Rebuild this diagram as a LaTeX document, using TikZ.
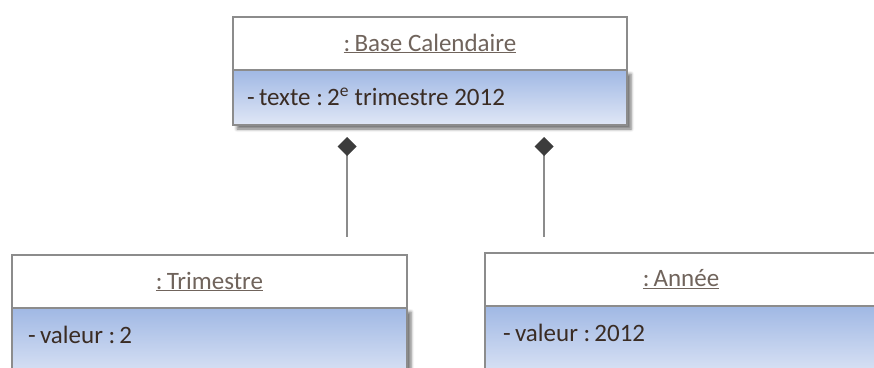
\documentclass[tikz,border=0pt]{standalone}
\usepackage{fontspec}
\setmainfont{Carlito}
\usetikzlibrary{positioning,arrows.meta,shadows.blur}
\definecolor{bordure}{RGB}{140,140,140}
\definecolor{haut}{RGB}{160,184,228}
\definecolor{bas}{RGB}{224,231,246}
\definecolor{titre}{RGB}{112,100,92}
\definecolor{attr}{RGB}{58,44,36}
\definecolor{diamant}{RGB}{60,60,60}
\definecolor{lien}{RGB}{140,140,140}

\tikzset{
  titrebox/.style={draw=bordure, fill=white, line width=1.2pt, outer sep=0pt, inner sep=0pt,
    minimum height=53pt, text=titre, font=\fontsize{25}{30}\selectfont},
  attrbox/.style={draw=bordure, line width=1.2pt, outer sep=0pt, inner sep=0pt,
    top color=haut, bottom color=bas, minimum height=#1,
    blur shadow={shadow xshift=4pt, shadow yshift=-4pt, shadow blur radius=3pt, shadow opacity=55}},
  attrtxt/.style={anchor=west, xshift=14pt, yshift=-27pt, inner sep=0pt, text=attr,
    font=\fontsize{25}{30}\selectfont},
  compo/.style={draw=lien, line width=1.3pt, {Diamond[length=19pt, width=19pt, color=diamant]}-}
}

\begin{document}
\begin{tikzpicture}[x=1pt, y=-1pt]
\clip (0,0) rectangle (874,367);
% objet du haut
\node[titrebox, minimum width=394pt] (base) at (430,43.5) {\underline{:\,Base Calendaire}};
\node[attrbox=55pt, minimum width=394pt, below=0pt of base,
  label={[attrtxt]north west:{-\,texte :\,2\textsuperscript{e} trimestre 2012}}] (basea) {};
% objets du bas
\node[titrebox, minimum width=395pt] (trim) at (209.5,281.5) {\underline{:\,Trimestre}};
\node[attrbox=75pt, minimum width=395pt, below=0pt of trim,
  label={[attrtxt, xshift=2pt]north west:{-\,valeur :\,2}}] (trima) {};
\node[titrebox, minimum width=392pt] (annee) at (681,279.5) {\underline{:\,Année}};
\node[attrbox=75pt, minimum width=392pt, below=0pt of annee,
  label={[attrtxt, xshift=4pt]north west:{-\,valeur :\,2012}}] (anneea) {};
% compositions
\coordinate (compL) at (347,137);
\coordinate (finL) at (347,237);
\coordinate (compR) at (544,137);
\coordinate (finR) at (544,237);
\draw[compo] (compL) -- (finL);
\draw[compo] (compR) -- (finR);
\end{tikzpicture}
\end{document}
